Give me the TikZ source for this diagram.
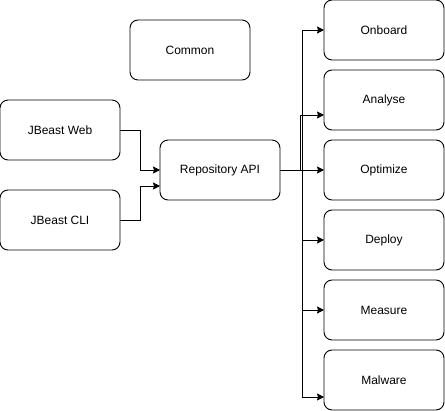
\documentclass[tikz,border=0pt]{standalone}
\usepackage{fontspec}
\setmainfont{Liberation Sans}
\usetikzlibrary{positioning,arrows.meta}

\begin{document}
\begin{tikzpicture}[x=1pt, y=-1pt, node distance = 10pt and 40pt,
  box/.style = {draw, line width=0.9pt, rounded corners=8pt, outer sep=0pt,
    minimum width=120pt, minimum height=60pt,
    font=\fontsize{12}{14}\selectfont},
  arr/.style = {line width=0.9pt, -{Stealth[length=7pt,width=7pt,inset=1pt]}}
  ]
  \useasboundingbox (0,0) rectangle (445,411);
  \node (common) [box] at (190,50) {Common};
  \node (web) [box] at (60,130) {JBeast Web};
  \node (cli) [box, below=30pt of web] {JBeast CLI};
  \node (api) [box] at (220,170) {Repository API};

  \node (onboard) [box] at (384,30) {Onboard};
  \node (analyse) [box, below=of onboard] {Analyse};
  \node (optimize) [box, below=of analyse] {Optimize};
  \node (deploy) [box, below=of optimize] {Deploy};
  \node (measure) [box, below=of deploy] {Measure};
  \node (malware) [box, below=of measure] {Malware};

  \draw[arr] (web.east) -- ++(20,0) |- (api.west);
  \draw[arr] (cli.east) -- ++(20,0) |- ([yshift=-16pt]api.west);

  \draw[arr] (api.east) -- ++(22,0) |- (onboard.west);
  \draw[arr] (api.east) -- ++(20,0) |- ([yshift=-15pt]analyse.west);
  \draw[arr] (api.east) -- (optimize.west);
  \draw[arr] (api.east) -- ++(22,0) |- (deploy.west);
  \draw[arr] (api.east) -- ++(22,0) |- (measure.west);
  \draw[arr] (api.east) -- ++(22,0) |- ([yshift=-17pt]malware.west);
\end{tikzpicture}
\end{document}
